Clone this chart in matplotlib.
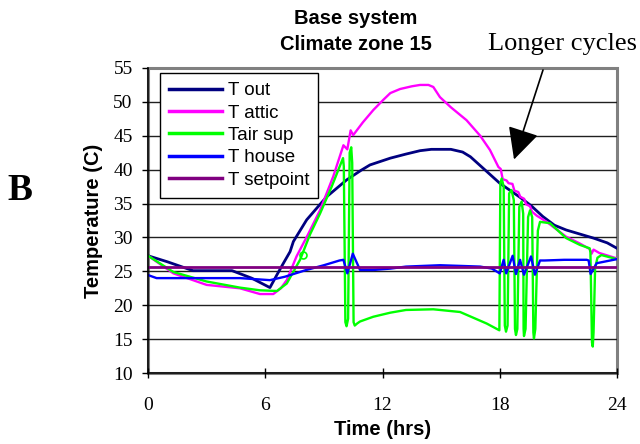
import matplotlib
matplotlib.use('Agg')
import matplotlib.pyplot as plt
from matplotlib.patches import Rectangle

# ---------------- data (hours, deg C) ----------------
tout_t = [0, 1, 2.3, 4.3, 5.3, 6.24, 6.6, 6.93, 7.27, 7.44, 8.12, 9.14, 10.17, 10.9, 11.36,
          12.4, 13.2, 13.92, 14.5, 15.5, 16.1, 16.5, 17.0, 18.0, 19.0, 19.6, 20.2, 20.8,
          21.4, 22.8, 23.5, 24]
tout_v = [27.3, 26.4, 25.1, 25.1, 24.0, 22.6, 24.5, 26.2, 27.9, 29.4, 32.6, 36.0, 38.5, 39.9, 40.7,
          41.7, 42.3, 42.8, 43.0, 43.0, 42.6, 41.9, 40.6, 38.0, 36.0, 34.7, 33.1, 31.8,
          31.1, 29.9, 29.2, 28.4]

tattic_t = [0, 1.3, 3.0, 4.7, 5.73, 6.41, 6.8, 7.1, 7.6, 8.2, 8.8, 9.48, 10.0, 10.2, 10.37,
            10.5, 11.0, 11.53, 12.04, 12.4, 12.9, 13.5, 13.92, 14.35, 14.6, 14.94, 15.5,
            16.3, 17.0, 17.5, 17.93, 18.05, 18.15, 18.35, 18.45, 18.65, 18.75, 18.95,
            19.05, 19.25, 19.35, 19.55, 19.65, 19.9, 20.4, 21.4, 22.1, 22.6, 22.7, 22.8,
            23.1, 24]
tattic_v = [27.3, 24.7, 23.0, 22.5, 21.65, 21.65, 22.5, 23.7, 27.2, 30.5, 34.0, 39.0, 43.6, 43.0, 45.8,
            45.1, 47.0, 48.8, 50.3, 51.3, 51.9, 52.3, 52.5, 52.5, 52.2, 50.7, 49.2,
            47.3, 45.0, 42.9, 40.4, 40.1, 38.6, 38.4, 38.0, 37.9, 36.9, 36.7,
            36.0, 35.7, 34.9, 34.6, 33.8, 33.2, 32.3, 30.1, 29.1, 28.3, 27.6, 28.2,
            27.7, 26.9]

tsup_t = [0, 1.3, 3.0, 4.7, 5.73, 6.6, 7.1, 7.78, 8.3, 8.8, 9.4, 9.98, 10.02, 10.1, 10.16,
          10.24, 10.32, 10.4, 10.45, 10.52, 10.58, 10.7, 10.85, 11.53, 12.4, 13.2, 14.6,
          15.97, 17.33, 17.98, 18.03, 18.1, 18.2, 18.26, 18.32, 18.4, 18.48, 18.6, 18.72,
          18.78, 18.83, 18.9, 19.0, 19.12, 19.2, 19.22, 19.24, 19.32, 19.45, 19.55,
          19.66, 19.72, 19.75, 19.82, 19.95, 20.06, 20.57, 21.4, 22.1, 22.6, 22.64,
          22.72, 22.76, 22.8, 22.88, 23.0, 23.2, 24]
tsup_v = [27.3, 24.9, 23.5, 22.6, 22.2, 22.1, 23.2, 26.7, 30.5, 33.5, 37.5, 41.7, 40.5, 17.5, 16.9,
          18.0, 42.5, 43.3, 41.0, 17.5, 17.0, 17.3, 17.6, 18.3, 18.9, 19.3, 19.4,
          19.0, 17.3, 16.3, 38.0, 38.7, 37.5, 17.0, 16.1, 17.0, 36.5, 37.0, 35.5,
          16.5, 15.6, 16.5, 34.5, 35.3, 33.5, 16.5, 15.45, 16.5, 33.0, 34.0,
          33.0, 16.0, 15.1, 16.5, 31.0, 32.3, 32.1, 29.9, 28.9, 28.4, 27.8,
          14.5, 13.9, 16.0, 25.5, 27.0, 27.4, 26.8]

thouse_t = [0, 0.44, 2, 4.7, 6.24, 7.0, 8.1, 9.0, 9.8, 10.0, 10.2, 10.48, 10.85, 11.53, 12.4,
            13.2, 14.94, 16.0, 17.0, 17.6, 18.0, 18.2, 18.33, 18.66, 18.83, 19.04, 19.24,
            19.6, 19.8, 20.06, 20.3, 21.3, 22.45, 22.55, 22.65, 22.96, 24]
thouse_v = [24.45, 24.0, 24.0, 24.0, 23.7, 24.2, 25.2, 25.9, 26.6, 26.7, 24.7, 27.6, 25.2, 25.2, 25.4,
            25.7, 25.9, 25.8, 25.7, 25.4, 24.7, 26.7, 24.7, 27.3, 24.6, 26.7, 24.5,
            27.2, 24.5, 26.6, 26.6, 26.7, 26.7, 26.6, 24.6, 26.2, 26.8]

tset_t = [0, 24]
tset_v = [25.6, 25.6]

marker_t = [7.95]
marker_v = [27.4]

series_names = ['T out', 'T attic', 'Tair sup', 'T house', 'T setpoint']
series_colors = ['#000080', '#FF00FF', '#00FF00', '#0000FF', '#800080']

xticks = [0, 6, 12, 18, 24]
yticks = [10, 15, 20, 25, 30, 35, 40, 45, 50, 55]

# ---------------- figure ----------------
W, H = 640, 444
fig = plt.figure(figsize=(6.4, 4.44), dpi=100)
ax = fig.add_axes([148 / W, 71 / H, 469 / W, 305 / H])

serif = ['Liberation Serif', 'DejaVu Serif']
sans = ['Liberation Sans', 'DejaVu Sans']

for y in yticks[1:-1]:
    ax.axhline(y, color='#202020', lw=1.0, zorder=1)

lw = 1.7
ax.plot(tout_t, tout_v, color=series_colors[0], lw=2.0, label=series_names[0], zorder=3)
ax.plot(tattic_t, tattic_v, color=series_colors[1], lw=lw, label=series_names[1], zorder=3)
ax.plot(tsup_t, tsup_v, color=series_colors[2], lw=lw, label=series_names[2], zorder=4)
ax.plot(marker_t, marker_v, linestyle='none', marker='o', mfc='none', mec=series_colors[2],
        ms=5, mew=1.2, zorder=4)
ax.plot(thouse_t, thouse_v, color=series_colors[3], lw=lw, label=series_names[3], zorder=5)
ax.plot(tset_t, tset_v, color=series_colors[4], lw=2.0, label=series_names[4], zorder=6)

ax.set_xlim(0, 24)
ax.set_ylim(10, 55)
ax.set_xticks(xticks)
ax.set_yticks(yticks)
ax.set_xticklabels([str(v) for v in xticks], family=serif, fontsize=14)
ax.set_yticklabels([str(v) for v in yticks], family=serif, fontsize=14)
ax.tick_params(axis='x', direction='inout', length=7, width=1, pad=13.5)
ax.tick_params(axis='y', direction='out', length=4.5, width=1, pad=6.5)

# plot-area border
ax.add_patch(Rectangle((0, 0), 1, 1, transform=ax.transAxes, fill=False,
                       edgecolor='#808080', lw=2.2, zorder=0.5, clip_on=False))
for s in ['top', 'right']:
    ax.spines[s].set_visible(False)
for s in ['left', 'bottom']:
    ax.spines[s].set_color('black')
    ax.spines[s].set_linewidth(1.1)
    ax.spines[s].set_zorder(7)

ax.set_xlabel('Time (hrs)', family=sans, fontsize=14.5, fontweight='bold')
ax.xaxis.set_label_coords(0.5, -0.155)
ax.set_ylabel('Temperature (C)', family=sans, fontsize=14.5, fontweight='bold')
ax.yaxis.set_label_coords(-0.117, 0.5)
ax.yaxis.label.set_va('center')

fig.text(356 / W, 1 - 18 / H, 'Base system', family=sans, fontsize=14.5,
         fontweight='bold', ha='center', va='center')
fig.text(356 / W, 1 - 45 / H, 'Climate zone 15', family=sans, fontsize=14.5,
         fontweight='bold', ha='center', va='center')

fig.text(20 / W, 1 - 190 / H, 'B', family=serif, fontsize=27, fontweight='bold',
         ha='center', va='center')

fig.text(488 / W, 1 - 50 / H, 'Longer cycles', family=serif, fontsize=19,
         ha='left', va='baseline')
ax.annotate('', xy=(18.73, 41.5), xycoords='data',
            xytext=(543 / W, 1 - 70 / H), textcoords='figure fraction',
            arrowprops=dict(arrowstyle='-|>,head_length=0.7,head_width=0.35', color='black',
                            lw=1.2, mutation_scale=28, shrinkA=0, shrinkB=0))

leg = ax.legend(loc='upper left', bbox_to_anchor=(160 / W, 1 - 72.7 / H),
                bbox_transform=fig.transFigure, borderaxespad=0,
                prop={'family': sans, 'size': 13.5}, frameon=True, fancybox=False,
                edgecolor='black', framealpha=1, borderpad=0.5, labelspacing=0.28,
                handlelength=2.8, handletextpad=0.3)
leg.get_frame().set_linewidth(1.0)
for h in leg.get_lines():
    h.set_linewidth(2.5)

fig.savefig('out.png', dpi=100)
